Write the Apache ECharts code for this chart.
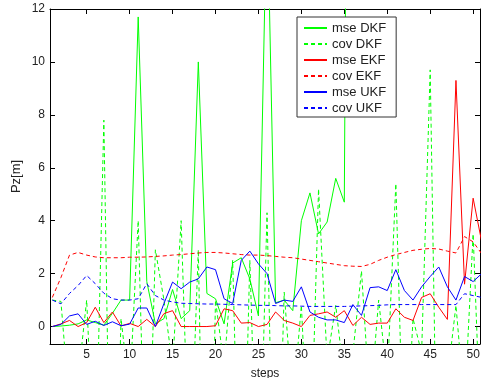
<!DOCTYPE html>
<html>
<head>
<meta charset="utf-8">
<script src="https://cdn.jsdelivr.net/npm/echarts@6/dist/echarts.min.js"></script>
<style>
  html, body { margin: 0; padding: 0; background: #ffffff; }
  #chart { width: 481px; height: 378px; }
</style>
</head>
<body>
<div id="chart"></div>
<script>
// Filter comparison: position error in z over 51 steps
const steps = Array.from({ length: 51 }, (_, i) => i + 1);

const mseDKF = [0, 0.02, 0.05, 0.1, 0.25, 0.15, 0.05, 0.5, 1.0, 1.0,
  11.7, 1.7, 0.1, 0.3, 1.4, 0.3, 0.6, 10.0, 1.25, 1.05,
  0.1, 2.4, 2.6, 1.8, 0.4, 16.5, 0.9, 1.0, 0.6, 4.0,
  5.05, 3.5, 3.95, 5.6, 4.7, 60, null, null, null, null,
  null, null, null, null, null, null, null, null, null, null, null];

const covDKF = [1.0, 0.95, -3, -2, 1.0, -6, 7.8, -12, 0.3, -2.5,
  4.0, -8, 2.9, 1.0, -1.5, 4.0, -6, 2.9, -15, 1.0,
  -1.5, 2.5, -10, 2.5, -8, 4.3, -10, 1.3, -3, 0.8,
  -6, 5.2, -1.3, 0.8, -2, -1, 2.1, -3, 1.0, -2,
  5.4, -6, 0.3, -1, 9.7, -10, -2, 0.8, -3, 3.5, -5];

const mseEKF = [0, 0.1, 0.23, 0, 0.15, 0.73, 0.15, 0.55, 0.02, 0.12,
  0, 0.27, 0, 0.49, 0.6, 0, 0, 0, 0, 0.03,
  0.67, 0.6, 0.13, 0.15, 0, 0.08, 0.55, 0.23, 0.13, 0,
  0.42, 0.48, 0.55, 0.35, 0.6, 0.04, 0.35, 0.08, 0.13, 0.13,
  0.67, 0.35, 0.23, 1.1, 1.24, 0.73, 0.27, 9.3, 1.6, 4.85, 3.2];

const covEKF = [1.1, 1.85, 2.7, 2.8, 2.7, 2.63, 2.6, 2.6, 2.6, 2.62,
  2.62, 2.63, 2.65, 2.67, 2.7, 2.72, 2.75, 2.78, 2.8, 2.8,
  2.78, 2.75, 2.72, 2.7, 2.7, 2.68, 2.65, 2.62, 2.6, 2.55,
  2.5, 2.45, 2.4, 2.35, 2.3, 2.28, 2.27, 2.35, 2.5, 2.62,
  2.72, 2.8, 2.88, 2.92, 2.95, 2.93, 2.85, 2.78, 3.4, 3.2, 2.75];

const mseUKF = [0, 0.08, 0.4, 0.48, 0.08, 0.2, 0.04, 0.18, 0.03, 0.09,
  0.7, 0.7, 0, 0.87, 1.68, 1.43, 1.68, 1.8, 2.25, 2.15,
  1.05, 0.87, 2.5, 2.85, 2.37, 2.0, 0.87, 1.0, 0.95, 1.5,
  0.55, 0.35, 0.25, 0.25, 0.15, 0.83, 0.42, 1.47, 1.5, 1.36,
  2.15, 1.36, 1.0, 1.5, 1.89, 2.25, 1.5, 1.0, 1.89, 1.7, 2.0];

const covUKF = [1.0, 0.86, 1.25, 1.55, 1.93, 1.62, 1.26, 1.05, 1.0, 1.0,
  1.05, 1.62, 1.17, 1.0, 0.93, 0.88, 0.87, 0.86, 0.85, 0.85,
  0.84, 0.83, 0.82, 0.81, 0.8, 0.8, 0.79, 0.78, 0.78, 0.77,
  0.76, 0.76, 0.76, 0.76, 0.76, 0.77, 0.78, 0.79, 0.8, 0.82,
  0.83, 0.83, 0.83, 0.83, 0.83, 0.83, 0.83, 0.83, 1.24, 1.17, 1.1];

const xTicks = [5, 10, 15, 20, 25, 30, 35, 40, 45, 50];
const yTicks = [0, 2, 4, 6, 8, 10, 12];

const GREEN = '#00ff00';
const RED = '#ff0000';
const BLUE = '#0000ff';
const DASH = [4, 3];
const FONT = 'Liberation Sans, Arial, sans-serif';

function pairs(values) {
  return steps.map((s, i) => [s, values[i]]);
}

function lineSeries(name, values, color, dashed) {
  return {
    name: name,
    type: 'line',
    data: pairs(values),
    symbol: 'none',
    clip: true,
    connectNulls: false,
    animation: false,
    lineStyle: { color: color, width: 1, type: dashed ? DASH : 'solid' },
    itemStyle: { color: color }
  };
}

function xAxisDef(pos, labels) {
  return {
    type: 'value', position: pos, min: 0.73, max: 50.8,
    axisLine: { show: true, onZero: false, lineStyle: { color: '#000', width: 1 } },
    axisTick: { show: true, inside: true, length: 5, customValues: xTicks, lineStyle: { color: '#000' } },
    axisLabel: { show: labels, customValues: xTicks, color: '#222', fontSize: 12, fontFamily: FONT, margin: 5 },
    splitLine: { show: false },
    name: labels ? 'steps' : '',
    nameLocation: 'middle', nameGap: 24, nameMoveOverlap: false,
    nameTextStyle: { color: '#222', fontSize: 12, fontFamily: FONT }
  };
}

function yAxisDef(pos, labels) {
  return {
    type: 'value', position: pos, min: -0.66, max: 12,
    axisLine: { show: true, onZero: false, lineStyle: { color: '#000', width: 1 } },
    axisTick: { show: true, inside: true, length: 5, customValues: yTicks, lineStyle: { color: '#000' } },
    axisLabel: { show: labels, customValues: yTicks, color: '#222', fontSize: 12, fontFamily: FONT, margin: 5 },
    splitLine: { show: false },
    name: labels ? 'Pz[m]' : '',
    nameLocation: 'middle', nameGap: 27, nameRotate: 90, nameMoveOverlap: false,
    nameTextStyle: { color: '#222', fontSize: 13, fontFamily: FONT }
  };
}

const chart = echarts.init(document.getElementById('chart'), null, { renderer: 'canvas' });
chart.setOption({
  backgroundColor: '#ffffff',
  animation: false,
  grid: { left: 50, right: 1, top: 9, bottom: 34, containLabel: false, outerBoundsMode: 'none' },
  xAxis: [xAxisDef('bottom', true), xAxisDef('top', false)],
  yAxis: [yAxisDef('left', true), yAxisDef('right', false)],
  legend: {
    orient: 'vertical',
    left: 297, top: 17,
    width: 102,
    padding: [3, 10, 1, 6],
    itemWidth: 23, itemHeight: 16, itemGap: 0,
    itemStyle: { opacity: 0, borderWidth: 0 },
    backgroundColor: '#ffffff',
    borderColor: '#333', borderWidth: 1,
    textStyle: { color: '#222', fontSize: 13, fontFamily: FONT, lineHeight: 16 },
    data: ['mse DKF', 'cov DKF', 'mse EKF', 'cov EKF', 'mse UKF', 'cov UKF']
  },
  series: [
    lineSeries('mse DKF', mseDKF, GREEN, false),
    lineSeries('cov DKF', covDKF, GREEN, true),
    lineSeries('mse EKF', mseEKF, RED, false),
    lineSeries('cov EKF', covEKF, RED, true),
    lineSeries('mse UKF', mseUKF, BLUE, false),
    lineSeries('cov UKF', covUKF, BLUE, true)
  ]
});
</script>
</body>
</html>
